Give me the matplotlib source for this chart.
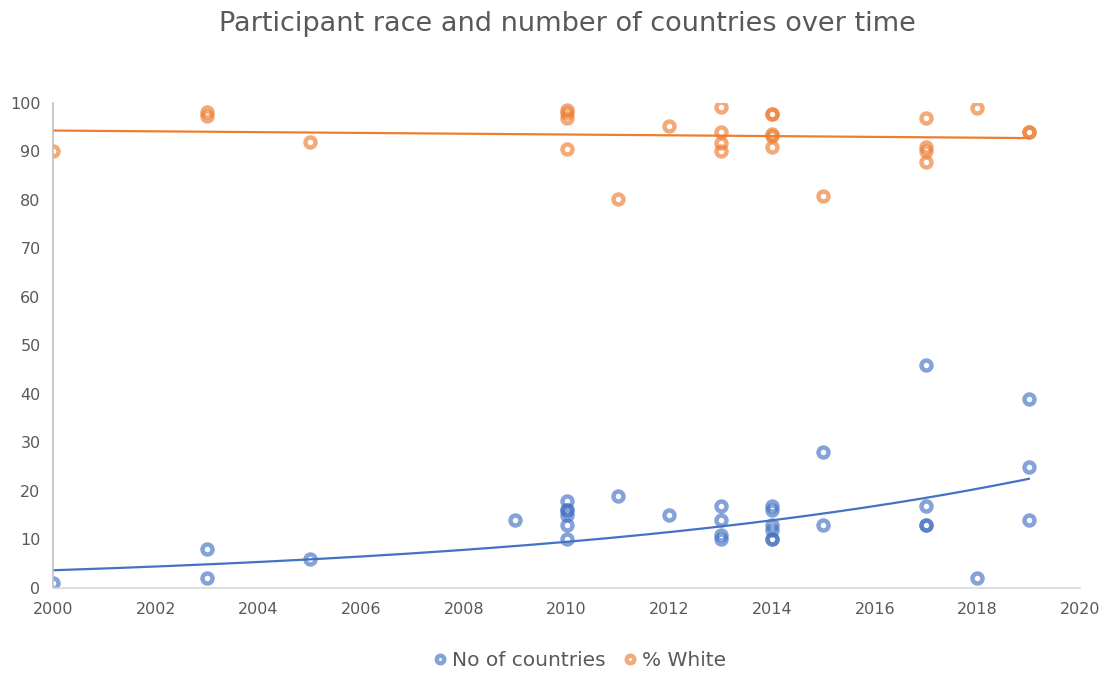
#!/usr/bin/env python3
# -*- coding: utf-8 -*-

import matplotlib
matplotlib.use("Agg")
import matplotlib.pyplot as plt
import numpy as np

# No of countries (blue)
COUNTRY_YEARS = [2000, 2003, 2003, 2005, 2009,
                 2010, 2010, 2010, 2010, 2010, 2010,
                 2011, 2012,
                 2013, 2013, 2013, 2013,
                 2014, 2014, 2014, 2014, 2014, 2014,
                 2015, 2015,
                 2017, 2017, 2017, 2017,
                 2018,
                 2019, 2019, 2019]
COUNTRY_VALUES = [1, 8, 2, 6, 14,
                  18, 16, 16, 15, 13, 10,
                  19, 15,
                  17, 14, 11, 10,
                  17, 16, 13, 12, 10, 10,
                  28, 13,
                  46, 17, 13, 13,
                  2,
                  39, 25, 14]

# % White (orange)
WHITE_YEARS = [2000, 2003, 2003, 2005,
               2010, 2010, 2010, 2010,
               2011, 2012,
               2013, 2013, 2013, 2013,
               2014, 2014, 2014, 2014, 2014,
               2015,
               2017, 2017, 2017, 2017,
               2018,
               2019, 2019]
WHITE_VALUES = [90, 98.1, 97.4, 92,
                98.6, 97.9, 96.8, 90.5,
                80.1, 95.3,
                99.2, 94.1, 91.7, 90.1,
                97.7, 97.7, 93.7, 93.1, 91.0,
                80.9,
                97.0, 91.0, 90.2, 87.8,
                99.0,
                94.1, 94.1]

BLUE = "#4472C4"
ORANGE = "#ED7D31"
TEXT = "#595959"
OUT_PNG = "out.png"


def main():
    plt.rcParams["font.family"] = ["DejaVu Sans"]
    fig = plt.figure(figsize=(11.09, 6.73), dpi=100)
    ax = fig.add_axes([0.0478, 0.1263, 0.9262, 0.7207])

    marker_kw = dict(linestyle="none", marker="o", markersize=7.2,
                     markerfacecolor="none", markeredgewidth=3.2, alpha=0.65)
    ax.plot(COUNTRY_YEARS, COUNTRY_VALUES, color=BLUE, label="No of countries", **marker_kw)
    ax.plot(WHITE_YEARS, WHITE_VALUES, color=ORANGE, label="% White", **marker_kw)

    # trend lines: exponential for countries, linear for % white
    xs = np.linspace(2000, 2019, 200)
    b, a = np.polyfit(COUNTRY_YEARS, np.log(COUNTRY_VALUES), 1)
    ax.plot(xs, np.exp(a + b * xs), color=BLUE, linewidth=1.6)
    m, c = np.polyfit(WHITE_YEARS, WHITE_VALUES, 1)
    ax.plot(xs, m * xs + c, color=ORANGE, linewidth=1.6)

    ax.set_xlim(2000, 2020)
    ax.set_ylim(0, 100)
    ax.set_xticks(np.arange(2000, 2021, 2))
    ax.set_yticks(np.arange(0, 101, 10))
    ax.tick_params(length=0, labelsize=11.5, colors=TEXT)
    ax.tick_params(axis="y", pad=9)
    ax.tick_params(axis="x", pad=10)
    for side in ("top", "right"):
        ax.spines[side].set_visible(False)
    ax.spines["left"].set_color("#BFBFBF")
    ax.spines["bottom"].set_color("#D9D9D9")
    ax.spines["left"].set_linewidth(1.2)
    ax.spines["bottom"].set_linewidth(1.2)

    fig.text(0.512, 0.965, "Participant race and number of countries over time",
             ha="center", va="center", fontsize=19.5, color=TEXT)

    leg = ax.legend(loc="center", bbox_to_anchor=(0.513, -0.15), ncol=2,
                    frameon=False, fontsize=14.5, handlelength=0.6,
                    handletextpad=0.3, columnspacing=0.9, markerscale=0.75)
    for t in leg.get_texts():
        t.set_color(TEXT)

    fig.savefig(OUT_PNG, dpi=100)
    plt.close(fig)


if __name__ == "__main__":
    main()
